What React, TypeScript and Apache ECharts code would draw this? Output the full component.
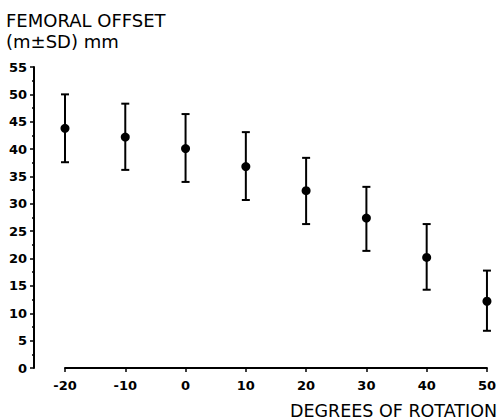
import React, { useEffect, useRef } from "react";
import * as echarts from "echarts";

const rotations = [-20, -10, 0, 10, 20, 30, 40, 50];
const means = [43.8, 42.2, 40.1, 36.8, 32.4, 27.4, 20.2, 12.2];
const upper = [50.0, 48.3, 46.4, 43.1, 38.4, 33.1, 26.3, 17.8];
const lower = [37.6, 36.2, 34.0, 30.7, 26.3, 21.4, 14.3, 6.8];
const yTitleLines = ["FEMORAL OFFSET", "(m\u00b1SD) mm"];
const xTitle = "DEGREES OF ROTATION";

export default function App() {
  const ref = useRef<HTMLDivElement>(null);
  useEffect(() => {
    if (!ref.current) return;
    const chart = echarts.init(ref.current, null, { renderer: "svg" });
    const font = "DejaVu Sans";
    chart.setOption({
      animation: false,
      backgroundColor: "#fff",
      grid: { left: 65, right: 9, top: 67, bottom: 52 },
      xAxis: {
        type: "value",
        min: -20,
        max: 50,
        interval: 10,
        axisLine: { lineStyle: { color: "#000", width: 2 } },
        axisTick: { show: true, length: 4, lineStyle: { color: "#000", width: 1.5 } },
        axisLabel: { color: "#000", fontFamily: font, fontWeight: "bold", fontSize: 13, margin: 11 },
        splitLine: { show: false },
      },
      yAxis: {
        type: "value",
        min: 0,
        max: 55,
        interval: 5,
        offset: 31,
        axisLine: { show: true, onZero: false, lineStyle: { color: "#000", width: 2 } },
        axisTick: { show: true, length: 4, lineStyle: { color: "#000", width: 1.5 } },
        minorTick: { show: true, splitNumber: 2, length: 2, lineStyle: { color: "#000", width: 1.5 } },
        axisLabel: { color: "#000", fontFamily: font, fontWeight: "bold", fontSize: 13, margin: 7 },
        splitLine: { show: false },
      },
      graphic: [
        {
          type: "text",
          left: 6,
          top: 10,
          style: {
            text: yTitleLines.join("\n"),
            fontFamily: font,
            fontSize: 18,
            lineHeight: 21,
            fill: "#000",
          },
        },
        {
          type: "text",
          right: 2,
          top: 402,
          style: { text: xTitle, fontFamily: font, fontSize: 17.5, fill: "#000" },
        },
      ],
      series: [
        {
          type: "custom",
          data: rotations.map((r, i) => [r, lower[i], upper[i]]),
          renderItem: (params: any, api: any) => {
            const x = api.value(0);
            const lo = api.coord([x, api.value(1)]);
            const hi = api.coord([x, api.value(2)]);
            const cw = 4;
            const style = { stroke: "#000", lineWidth: 2 };
            return {
              type: "group",
              children: [
                { type: "line", shape: { x1: lo[0], y1: lo[1], x2: hi[0], y2: hi[1] }, style },
                { type: "line", shape: { x1: hi[0] - cw, y1: hi[1], x2: hi[0] + cw, y2: hi[1] }, style },
                { type: "line", shape: { x1: lo[0] - cw, y1: lo[1], x2: lo[0] + cw, y2: lo[1] }, style },
              ],
            };
          },
          z: 2,
        },
        {
          type: "scatter",
          data: rotations.map((r, i) => [r, means[i]]),
          symbol: "circle",
          symbolSize: 9,
          itemStyle: { color: "#000", opacity: 1 },
          z: 3,
        },
      ],
    });
    return () => chart.dispose();
  }, []);
  return <div ref={ref} style={{ width: 499, height: 420, position: "absolute", left: 0, top: 0 }} />;
}
